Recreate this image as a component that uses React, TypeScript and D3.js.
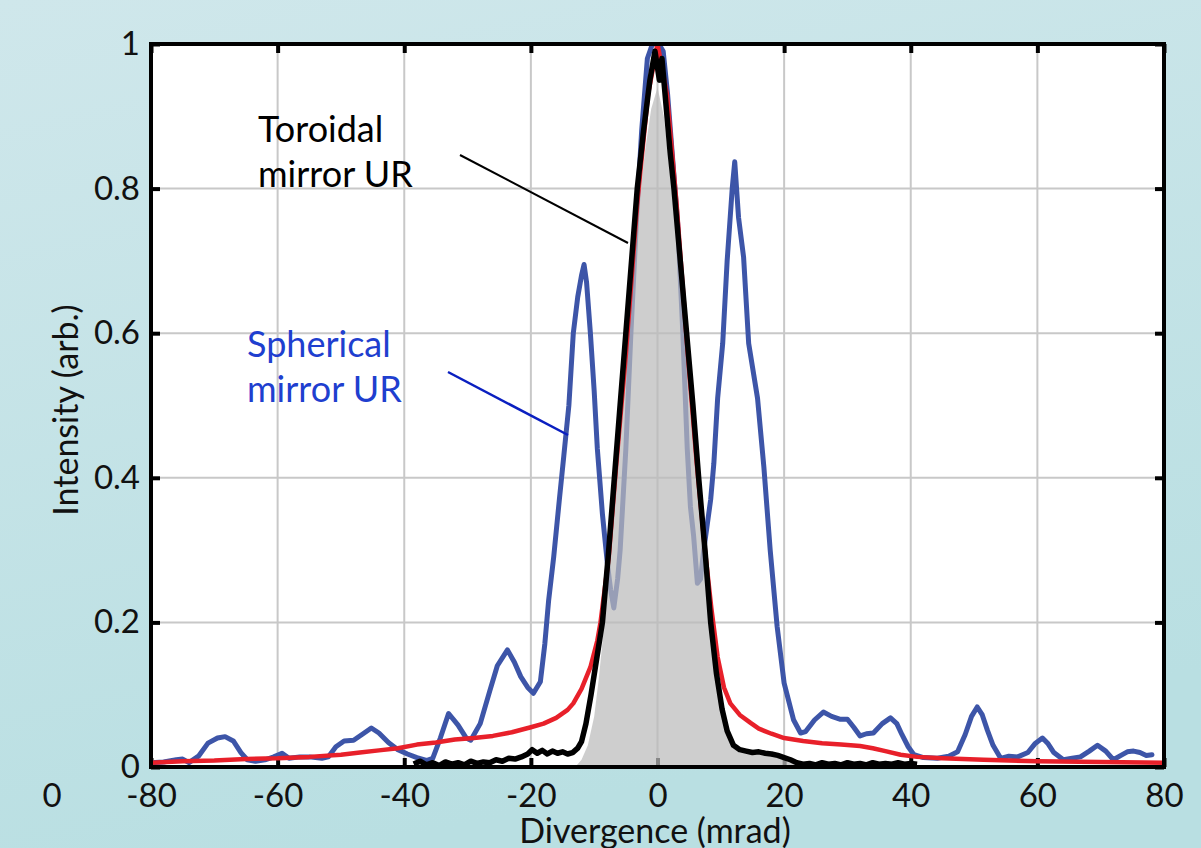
import React, { useRef, useEffect } from "react";
import { select, scaleLinear, line, area, axisBottom, axisLeft, axisTop, axisRight } from "d3";

// tick values
const xTicks = [-80, -60, -40, -20, 0, 20, 40, 60, 80];
const yTicks = [0, 0.2, 0.4, 0.6, 0.8, 1];

// measured spherical mirror profile (blue)
const spherical: [number, number][] = [
  [-80, 0.006], [-78, 0.007], [-76, 0.01], [-75, 0.011], [-74, 0.006], [-72.5, 0.015], [-71, 0.033],
  [-69.5, 0.04], [-68.3, 0.042], [-67, 0.036], [-65.8, 0.02], [-64.8, 0.01], [-63.5, 0.008], [-62, 0.01],
  [-60.6, 0.014], [-59.3, 0.019], [-58.2, 0.012], [-56.5, 0.014], [-55, 0.014], [-53, 0.012], [-52, 0.014],
  [-50.8, 0.028], [-49.5, 0.036], [-48, 0.037], [-46.5, 0.046], [-45.2, 0.054], [-44, 0.047], [-42.5, 0.034],
  [-41, 0.024], [-39.5, 0.018], [-38, 0.013], [-36.5, 0.009], [-35.5, 0.012], [-34.3, 0.04], [-33, 0.074],
  [-31.5, 0.058], [-30.2, 0.04], [-29.5, 0.037], [-28, 0.06], [-26.5, 0.105], [-25.3, 0.14], [-23.7, 0.162],
  [-22.6, 0.145], [-21.6, 0.125], [-20.5, 0.11], [-19.6, 0.102], [-18.5, 0.118], [-17.8, 0.17], [-17.2, 0.23],
  [-16.4, 0.29], [-15.5, 0.37], [-14.8, 0.43], [-14, 0.5], [-13.3, 0.6], [-12.6, 0.65], [-12, 0.68],
  [-11.6, 0.695], [-11.2, 0.67], [-10.6, 0.6], [-10, 0.52], [-9.5, 0.44], [-8.7, 0.35], [-7.9, 0.28],
  [-7.4, 0.245], [-6.9, 0.22], [-6.3, 0.26], [-5.9, 0.3], [-5, 0.44], [-4.2, 0.6], [-3.3, 0.76],
  [-2.5, 0.88], [-1.6, 0.98], [-0.8, 1.0], [0.2, 1.0], [0.9, 0.99], [1.6, 0.93], [2.4, 0.84], [3.2, 0.75],
  [4, 0.6], [4.7, 0.44], [5.2, 0.36], [5.7, 0.32], [6.3, 0.254], [6.8, 0.26], [7.3, 0.3], [8.4, 0.37],
  [8.9, 0.42], [9.5, 0.51], [10.3, 0.586], [11, 0.7], [11.8, 0.8], [12.2, 0.837], [12.8, 0.76], [13.6, 0.705],
  [14.4, 0.586], [15.8, 0.51], [16.8, 0.415], [17.8, 0.3], [18.9, 0.194], [20, 0.116], [21.5, 0.065],
  [22.6, 0.047], [23.4, 0.049], [24.8, 0.065], [26.2, 0.076], [27.5, 0.07], [28.9, 0.066], [30, 0.066],
  [31, 0.055], [32, 0.043], [33, 0.046], [34.1, 0.047], [35.5, 0.06], [36.8, 0.068], [37.8, 0.06],
  [38.6, 0.045], [39.6, 0.028], [40.5, 0.017], [42, 0.013], [44.2, 0.012], [46, 0.015], [47.4, 0.021],
  [48.6, 0.045], [49.6, 0.07], [50.5, 0.083], [51.3, 0.072], [52.1, 0.051], [53, 0.03], [54.2, 0.012],
  [55.5, 0.015], [56.9, 0.014], [58.5, 0.02], [59.6, 0.032], [60.8, 0.04], [61.7, 0.032], [62.6, 0.02],
  [64.1, 0.01], [65.5, 0.012], [66.8, 0.014], [68.2, 0.022], [69.5, 0.03], [70.8, 0.022], [72, 0.01],
  [73.2, 0.016], [74.2, 0.021], [75.2, 0.022], [76.2, 0.02], [77.2, 0.016], [78.1, 0.017],
];

// simulated profile (red)
const simulated: [number, number][] = [
  [-80, 0.006], [-75, 0.008], [-70, 0.009], [-65, 0.011], [-60, 0.012], [-55, 0.014], [-50, 0.017],
  [-47, 0.02], [-44, 0.023], [-41, 0.026], [-38, 0.031], [-35, 0.034], [-32, 0.038], [-29, 0.04],
  [-26, 0.043], [-23, 0.048], [-20, 0.055], [-18, 0.06], [-16, 0.068], [-14.2, 0.079], [-13.3, 0.088],
  [-12, 0.108], [-10.6, 0.138], [-9.5, 0.175], [-9, 0.2], [-7.7, 0.29], [-6.5, 0.42], [-5, 0.57],
  [-3.2, 0.78], [-1.5, 0.93], [0, 1.0], [1.5, 0.93], [3, 0.78], [4.7, 0.58], [6.2, 0.42], [7.5, 0.3],
  [8.5, 0.22], [9.5, 0.152], [10.5, 0.11], [11.5, 0.088], [13, 0.072], [14.7, 0.061], [16, 0.053],
  [18, 0.046], [20, 0.04], [23, 0.036], [26, 0.033], [29, 0.031], [32, 0.029], [34, 0.026], [36, 0.022],
  [38.4, 0.017], [41, 0.014], [45, 0.012], [51.5, 0.01], [60, 0.008], [70, 0.007], [80, 0.006],
];

// toroidal mirror profile (black)
const toroidal: [number, number][] = [
  [-38.5, 0.004], [-37.5, 0.008], [-36.5, 0.003], [-35.5, 0.006], [-34.5, 0.002], [-33.5, 0.007],
  [-32.5, 0.004], [-31.5, 0.006], [-30.5, 0.003], [-29.5, 0.008], [-28.5, 0.005], [-27.5, 0.007],
  [-26.5, 0.006], [-25.5, 0.01], [-24.5, 0.008], [-23.5, 0.012], [-22.5, 0.011], [-21.5, 0.014],
  [-20.5, 0.018], [-19.8, 0.024], [-19, 0.019], [-18.2, 0.023], [-17.4, 0.018], [-16.6, 0.022],
  [-15.8, 0.019], [-15, 0.021], [-14.2, 0.018], [-13.4, 0.02], [-12.6, 0.026], [-12, 0.035],
  [-11.3, 0.06], [-10.5, 0.1], [-9.6, 0.15], [-8.7, 0.2], [-7.8, 0.29], [-6.9, 0.39], [-6, 0.49],
  [-5, 0.6], [-4.1, 0.7], [-3.2, 0.8], [-2.2, 0.88], [-1.2, 0.95], [-0.4, 0.99], [0.3, 0.95],
  [0.7, 0.98], [1.3, 0.92], [2, 0.85], [2.6, 0.8], [3.6, 0.7], [4.6, 0.6], [5.6, 0.5], [6.5, 0.4],
  [7.5, 0.3], [8.4, 0.2], [9.3, 0.13], [10.2, 0.08], [11, 0.05], [12, 0.03], [13, 0.024], [14, 0.022],
  [15, 0.02], [16, 0.021], [17, 0.019], [18, 0.018], [19, 0.016], [20, 0.013], [21, 0.01], [22, 0.006],
  [23, 0.004], [24, 0.005], [25, 0.003], [26, 0.006], [27, 0.004], [28, 0.005], [29, 0.003],
  [30, 0.006], [31, 0.004], [32, 0.005], [33, 0.003], [34, 0.006], [35, 0.004], [36, 0.005],
  [37, 0.004], [38, 0.006], [39, 0.004], [40, 0.005], [41, 0.004],
];

// shaded reference profile (grey)
const reference: [number, number][] = [
  [-13, 0], [-12, 0.01], [-11, 0.03], [-10, 0.07], [-9.3, 0.12], [-8.5, 0.19], [-7.6, 0.28],
  [-6.7, 0.38], [-5.8, 0.48], [-4.9, 0.58], [-4, 0.68], [-3, 0.77], [-2, 0.85], [-1, 0.91], [0, 0.94],
  [1, 0.9], [2, 0.82], [3, 0.73], [4, 0.63], [5, 0.53], [6, 0.43], [7, 0.32], [8, 0.22], [9, 0.14],
  [10, 0.08], [11, 0.045], [12, 0.03], [14, 0.024], [17, 0.02], [20, 0.012], [22, 0.004], [23, 0],
];

const FONT = "Lato, 'Open Sans', sans-serif";

function App() {
  const svgRef = useRef<SVGSVGElement>(null);
  const width = 1201;
  const height = 848;

  useEffect(() => {
    const svg = select(svgRef.current);
    svg.selectAll("*").remove();

    const x = scaleLinear().domain([-80, 80]).range([151, 1164]);
    const y = scaleLinear().domain([0, 1]).range([767, 44]);

    // background
    const defs = svg.append("defs");
    const grad = defs.append("linearGradient").attr("id", "bg").attr("x1", 0).attr("y1", 0).attr("x2", 0.3).attr("y2", 1);
    grad.append("stop").attr("offset", "0%").attr("stop-color", "#cfe7eb");
    grad.append("stop").attr("offset", "100%").attr("stop-color", "#b9dfe2");
    svg.append("rect").attr("width", width).attr("height", height).attr("fill", "url(#bg)");

    defs.append("clipPath").attr("id", "plot")
      .append("rect").attr("x", 151).attr("y", 44).attr("width", 1013).attr("height", 723);

    // plot area
    svg.append("rect")
      .attr("x", 151).attr("y", 44).attr("width", 1013).attr("height", 723)
      .attr("fill", "#ffffff");

    // grid
    const grid = svg.append("g").attr("stroke", "#c8c8c8").attr("stroke-width", 2);
    grid.selectAll(".gx").data(xTicks.slice(1, -1)).join("line")
      .attr("x1", d => x(d)).attr("x2", d => x(d)).attr("y1", y(1)).attr("y2", y(0));
    grid.selectAll(".gy").data(yTicks.slice(1, -1)).join("line")
      .attr("y1", d => y(d)).attr("y2", d => y(d)).attr("x1", x(-80)).attr("x2", x(80));

    // axes (inward ticks)
    const styleAxis = (g: any) => {
      g.select(".domain").remove();
      g.selectAll(".tick line").attr("stroke", "#000").attr("stroke-width", 4);
      g.selectAll(".tick text").attr("fill", "#111").style("font-family", FONT).style("font-size", "33px");
    };
    svg.append("g").attr("transform", `translate(0,${y(0)})`)
      .call(axisBottom(x).tickValues(xTicks).tickSize(-9).tickPadding(17).tickFormat(d => String(d)))
      .call(styleAxis);
    svg.append("g").attr("transform", `translate(${x(-80)},0)`)
      .call(axisLeft(y).tickValues(yTicks).tickSize(-9).tickPadding(11).tickFormat(d => String(d)))
      .call(styleAxis);
    svg.append("g").attr("transform", `translate(0,${y(1)})`)
      .call(axisTop(x).tickValues(xTicks).tickSize(-9).tickFormat(() => ""))
      .call(styleAxis);
    svg.append("g").attr("transform", `translate(${x(80)},0)`)
      .call(axisRight(y).tickValues(yTicks).tickSize(-9).tickFormat(() => ""))
      .call(styleAxis);

    const data = svg.append("g").attr("clip-path", "url(#plot)");
    const lineGen = line<[number, number]>().x(d => x(d[0])).y(d => y(d[1]));

    data.append("path").attr("d", lineGen(spherical))
      .attr("fill", "none").attr("stroke", "#3d55a8").attr("stroke-width", 5)
      .attr("stroke-linejoin", "round").attr("stroke-linecap", "round");

    const areaGen = area<[number, number]>().x(d => x(d[0])).y0(y(0)).y1(d => y(d[1]));
    data.append("path").attr("d", areaGen(reference))
      .attr("fill", "#bbbbbb").attr("fill-opacity", 0.72);

    data.append("path").attr("d", lineGen(simulated))
      .attr("fill", "none").attr("stroke", "#e8202a").attr("stroke-width", 4.5)
      .attr("stroke-linejoin", "round");

    data.append("path").attr("d", lineGen(toroidal))
      .attr("fill", "none").attr("stroke", "#000").attr("stroke-width", 5.5)
      .attr("stroke-linejoin", "round");

    // frame
    svg.append("rect")
      .attr("x", 151).attr("y", 44).attr("width", 1013).attr("height", 723)
      .attr("fill", "none").attr("stroke", "#000").attr("stroke-width", 4);

    // axis titles
    svg.append("text")
      .attr("x", 655).attr("y", 843).attr("text-anchor", "middle")
      .attr("fill", "#111").style("font-family", FONT).style("font-size", "34px")
      .text("Divergence (mrad)");
    svg.append("text")
      .attr("transform", "translate(78,410) rotate(-90)").attr("text-anchor", "middle")
      .attr("fill", "#111").style("font-family", FONT).style("font-size", "34px")
      .text("Intensity (arb.)");
    svg.append("text")
      .attr("x", 52).attr("y", 807).attr("text-anchor", "middle")
      .attr("fill", "#111").style("font-family", FONT).style("font-size", "33px")
      .text("0");

    // annotations
    const note = (lines: string[], x0: number, y0: number, color: string) => {
      const t = svg.append("text").attr("fill", color)
        .style("font-family", FONT).style("font-size", "36px");
      lines.forEach((s, i) => t.append("tspan").attr("x", x0).attr("y", y0 + i * 45).text(s));
    };
    note(["Toroidal", "mirror UR"], 258, 142, "#000");
    note(["Spherical", "mirror UR"], 247, 357, "#1f3fcf");

    svg.append("line").attr("x1", 460).attr("y1", 155).attr("x2", 628).attr("y2", 243)
      .attr("stroke", "#000").attr("stroke-width", 2);
    svg.append("line").attr("x1", 448).attr("y1", 372).attr("x2", 568).attr("y2", 435)
      .attr("stroke", "#0a1fc0").attr("stroke-width", 2.5);
  }, []);

  return (
    <div style={{ position: "absolute", left: 0, top: 0 }}>
      <svg ref={svgRef} width={width} height={height} style={{ display: "block" }} />
    </div>
  );
}

export default App;
